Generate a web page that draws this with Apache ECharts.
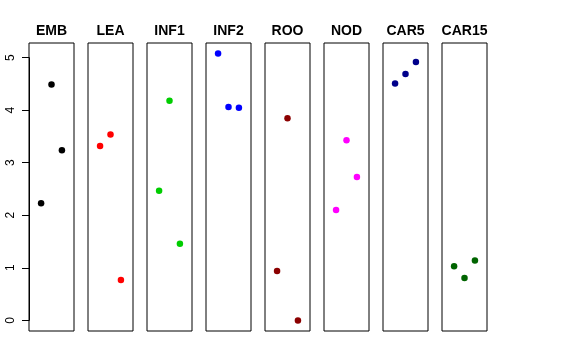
<!DOCTYPE html>
<html><head><meta charset="utf-8">
<script src="https://cdn.jsdelivr.net/npm/echarts@6/dist/echarts.min.js"></script>
<style>html,body{margin:0;padding:0;background:#fff}#c{width:576px;height:360px}</style>
</head><body><div id="c"></div>
<script>
const categories = ["EMB","LEA","INF1","INF2","ROO","NOD","CAR5","CAR15"];
const colors = ["#000000","#FF0000","#00CD00","#0000FF","#8B0000","#FF00FF","#00008B","#006400"];
const EMB = [2.23, 4.49, 3.24];
const LEA = [3.32, 3.54, 0.77];
const INF1 = [2.47, 4.18, 1.46];
const INF2 = [5.08, 4.06, 4.05];
const ROO = [0.94, 3.85, 0.00];
const NOD = [2.10, 3.43, 2.73];
const CAR5 = [4.51, 4.69, 4.92];
const CAR15 = [1.03, 0.81, 1.14];
const yTicks = [0, 1, 2, 3, 4, 5];
const seriesValues = [EMB, LEA, INF1, INF2, ROO, NOD, CAR5, CAR15];

const chart = echarts.init(document.getElementById('c'), null, {renderer:'canvas'});
const grids = [], xAxes = [], yAxes = [], series = [], titles = [];
const left0 = 29, pitch = 59, pw = 45, gTop = 43, gBottom = 360 - 331;
categories.forEach((cat, i) => {
  const l = left0 + pitch * i;
  grids.push({left: l, top: gTop, width: pw, bottom: gBottom, show: true, borderColor: '#000', borderWidth: 1, backgroundColor: 'transparent', containLabel: false});
  xAxes.push({gridIndex: i, type: 'value', min: -0.16, max: 4.16, show: false});
  yAxes.push({gridIndex: i, type: 'value', min: -0.2, max: 5.28, show: false});
  series.push({type: 'scatter', xAxisIndex: i, yAxisIndex: i, symbol: 'circle', symbolSize: 6.5,
    itemStyle: {color: colors[i], opacity: 1}, silent: true,
    data: seriesValues[i].map((v, j) => [j + 1, v])});
  titles.push({text: cat, left: l + pw / 2 - 5, top: 19, textAlign: 'center',
    textStyle: {fontFamily: 'Liberation Sans', fontWeight: 'bold', fontSize: 14, color: '#000'}});
});
// axis-only grid for tick labels
const ai = categories.length;
grids.push({left: left0, top: 57.7, width: pw, bottom: 360 - 320.3, show: false});
xAxes.push({gridIndex: ai, type: 'value', show: false});
yAxes.push({gridIndex: ai, type: 'value', min: yTicks[0], max: yTicks[yTicks.length - 1], interval: 1,
  axisLine: {show: true, lineStyle: {color: '#000', width: 1}},
  axisTick: {show: true, length: 7, lineStyle: {color: '#000', width: 1}},
  splitLine: {show: false},
  axisLabel: {rotate: 90, margin: 12, fontFamily: 'Liberation Sans', fontSize: 12, color: '#000'}});

chart.setOption({
  backgroundColor: '#fff',
  animation: false,
  title: titles,
  grid: grids,
  xAxis: xAxes,
  yAxis: yAxes,
  series: series
});
</script></body></html>
